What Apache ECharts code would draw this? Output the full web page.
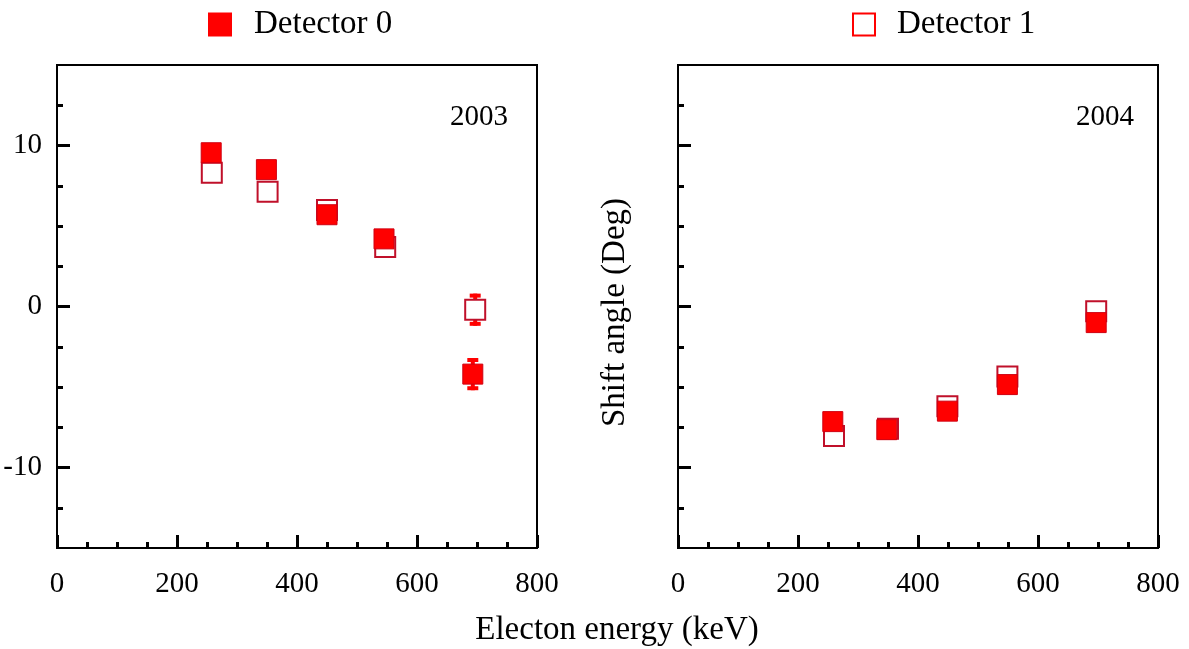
<!DOCTYPE html>
<html>
<head>
<meta charset="utf-8">
<script src="https://cdn.jsdelivr.net/npm/echarts@6/dist/echarts.min.js"></script>
<style>
html,body{margin:0;padding:0;background:#fff;}
#chart{width:1189px;height:649px;}
</style>
</head>
<body>
<div id="chart"></div>
<script>
// ---- data ----
const seriesNames = ['Detector 0', 'Detector 1'];
const panelTitles = ['2003', '2004'];

const energy2003Det0 = [257, 349, 450, 545, 693];
const shift2003Det0  = [9.55, 8.5, 5.7, 4.2, -4.2];
const err2003Det0    = [0, 0, 0, 0, 1.0];

const energy2003Det1 = [258, 351, 450, 547, 697];
const shift2003Det1  = [8.3, 7.12, 6.0, 3.7, -0.2];
const err2003Det1    = [0, 0, 0, 0, 1.0];

const energy2004Det0 = [258, 348, 449, 549, 697];
const shift2004Det0  = [-7.15, -7.65, -6.5, -4.85, -1.0];

const energy2004Det1 = [260, 350, 449, 549, 697];
const shift2004Det1  = [-8.05, -7.6, -6.2, -4.35, -0.3];

const xMin = 0, xMax = 800, xStep = 200;
const yMin = -15, yMax = 15;
const yMajorTicks = [-10, 0, 10];
const yMinorTicks = [-12.5, -7.5, -5, -2.5, 2.5, 5, 7.5, 12.5];

const xAxisTitle = 'Electon energy (keV)';
const yAxisTitle = 'Shift angle (Deg)';

// ---- styling ----
const FONT = 'Liberation Serif';
const FS = 29;      // tick labels, panel titles
const FS_NAME = 33; // axis titles, legend
const RED = '#ff0000';
const DARKRED = '#c0102a';

function pts(xs, ys) { return xs.map((x, i) => [x, ys[i]]); }
function errPts(xs, ys, es) {
  const out = [];
  xs.forEach((x, i) => { if (es[i] > 0) out.push([x, ys[i], es[i]]); });
  return out;
}

function makeXAxis(gi) {
  return {
    type: 'value', gridIndex: gi, min: xMin, max: xMax, interval: xStep, position: 'bottom',
    axisLine: { show: false, onZero: false },
    axisTick: { show: true, inside: true, length: 13, lineStyle: { color: '#000', width: 3 } },
    minorTick: { show: true, splitNumber: 4, length: 6, lineStyle: { color: '#000', width: 3 } },
    splitLine: { show: false },
    axisLabel: { margin: 22, color: '#000', fontFamily: FONT, fontSize: FS }
  };
}
function makeYMain(gi, showLabels, name) {
  const ax = {
    type: 'value', gridIndex: gi, min: yMin, max: yMax, position: 'left',
    axisLine: { show: false, onZero: false },
    axisTick: { show: true, inside: true, length: 13, customValues: yMajorTicks, lineStyle: { color: '#000', width: 3 } },
    splitLine: { show: false },
    axisLabel: { show: showLabels, customValues: yMajorTicks, margin: 15, color: '#000', fontFamily: FONT, fontSize: FS }
  };
  if (name) {
    ax.name = name;
    ax.nameLocation = 'middle';
    ax.nameGap = 46;
    ax.nameTextStyle = { color: '#000', fontFamily: FONT, fontSize: FS_NAME, padding: [0, 12, 0, 0] };
  }
  return ax;
}
function makeYMinor(gi) {
  return {
    type: 'value', gridIndex: gi, min: yMin, max: yMax, position: 'left',
    axisLine: { show: false, onZero: false },
    axisTick: { show: true, inside: true, length: 6, customValues: yMinorTicks, lineStyle: { color: '#000', width: 3 } },
    splitLine: { show: false },
    axisLabel: { show: false }
  };
}

const errorRender = function (params, api) {
  const x = api.value(0), y = api.value(1), e = api.value(2);
  const top = api.coord([x, y + e]);
  const bot = api.coord([x, y - e]);
  const cw = 11, ct = 4;
  return {
    type: 'group',
    children: [
      { type: 'rect', shape: { x: top[0] - 2, y: top[1], width: 4, height: bot[1] - top[1] }, style: { fill: RED } },
      { type: 'rect', shape: { x: top[0] - cw / 2, y: top[1], width: cw, height: ct }, style: { fill: RED } },
      { type: 'rect', shape: { x: bot[0] - cw / 2, y: bot[1] - ct, width: cw, height: ct }, style: { fill: RED } }
    ]
  };
};

function openSeries(xi, yi, data) {
  return {
    name: seriesNames[1], type: 'scatter', xAxisIndex: xi, yAxisIndex: yi, data: data,
    symbol: 'rect', symbolSize: 20, z: 3,
    itemStyle: { color: '#ffffff', borderColor: DARKRED, borderWidth: 2, opacity: 1 }
  };
}
function filledSeries(xi, yi, data) {
  return {
    name: seriesNames[0], type: 'scatter', xAxisIndex: xi, yAxisIndex: yi, data: data,
    symbol: 'rect', symbolSize: 20, z: 4,
    itemStyle: { color: RED, borderColor: '#d00010', borderWidth: 1, opacity: 1 }
  };
}

const chart = echarts.init(document.getElementById('chart'), null, { renderer: 'canvas' });
chart.setOption({
  backgroundColor: '#ffffff',
  animation: false,
  textStyle: { fontFamily: FONT },
  grid: [
    { left: 57, top: 65, width: 480, height: 483, show: true, borderColor: '#000', borderWidth: 2, backgroundColor: 'transparent' },
    { left: 678, top: 65, width: 480, height: 483, show: true, borderColor: '#000', borderWidth: 2, backgroundColor: 'transparent' }
  ],
  title: [
    { text: panelTitles[0], right: 676, top: 98, textStyle: { fontFamily: FONT, fontSize: FS, fontWeight: 'normal', color: '#000' } },
    { text: panelTitles[1], right: 50, top: 98, textStyle: { fontFamily: FONT, fontSize: FS, fontWeight: 'normal', color: '#000' } }
  ],
  legend: [
    { data: [{ name: seriesNames[0], icon: 'rect', itemStyle: { color: RED, borderWidth: 0 } }],
      left: 208, top: 8, padding: 0, itemWidth: 24, itemHeight: 24,
      textStyle: { fontFamily: FONT, fontSize: FS_NAME, color: '#000', padding: [3, 0, 0, 17] } },
    { data: [{ name: seriesNames[1], icon: 'rect', itemStyle: { color: '#ffffff', borderColor: RED, borderWidth: 2 } }],
      left: 852, top: 8, padding: 0, itemWidth: 22, itemHeight: 22,
      textStyle: { fontFamily: FONT, fontSize: FS_NAME, color: '#000', padding: [3, 0, 0, 17] } }
  ],
  xAxis: [makeXAxis(0), makeXAxis(1)],
  yAxis: [makeYMain(0, true), makeYMinor(0), makeYMain(1, false, yAxisTitle), makeYMinor(1)],
  graphic: [
    { type: 'text', x: 617, y: 630, style: { text: xAxisTitle, font: FS_NAME + 'px "' + FONT + '"', fill: '#000', textAlign: 'center', textVerticalAlign: 'middle' } }
  ],
  series: [
    { type: 'custom', xAxisIndex: 0, yAxisIndex: 0, z: 2, renderItem: errorRender, data: errPts(energy2003Det1, shift2003Det1, err2003Det1), silent: true },
    { type: 'custom', xAxisIndex: 0, yAxisIndex: 0, z: 2, renderItem: errorRender, data: errPts(energy2003Det0, shift2003Det0, err2003Det0), silent: true },
    openSeries(0, 0, pts(energy2003Det1, shift2003Det1)),
    filledSeries(0, 0, pts(energy2003Det0, shift2003Det0)),
    openSeries(1, 2, pts(energy2004Det1, shift2004Det1)),
    filledSeries(1, 2, pts(energy2004Det0, shift2004Det0))
  ]
});
</script>
</body>
</html>
